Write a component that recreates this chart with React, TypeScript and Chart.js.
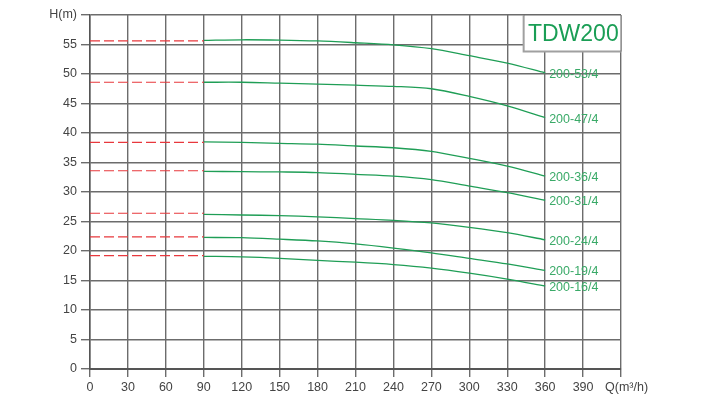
import React, { useEffect, useRef } from "react";
import { Chart, registerables } from "chart.js";

Chart.register(...registerables);

const flow = [90, 120, 150, 180, 210, 240, 270, 300, 330, 360];
const h53 = [55.7, 55.8, 55.75, 55.6, 55.3, 54.95, 54.3, 53.1, 51.85, 50.2];
const h47 = [48.6, 48.6, 48.45, 48.3, 48.1, 47.9, 47.5, 46.2, 44.6, 42.6];
const h36 = [38.5, 38.4, 38.25, 38.1, 37.8, 37.5, 36.9, 35.7, 34.4, 32.7];
const h31 = [33.5, 33.45, 33.4, 33.3, 33.0, 32.7, 32.1, 31.0, 29.9, 28.6];
const h24 = [26.2, 26.1, 26.0, 25.8, 25.5, 25.2, 24.75, 24.0, 23.1, 21.9];
const h19 = [22.3, 22.25, 22.0, 21.7, 21.2, 20.5, 19.7, 18.75, 17.8, 16.7];
const h16 = [19.1, 19.0, 18.76, 18.4, 18.1, 17.7, 17.1, 16.25, 15.25, 14.07];

const curveNames = ["200-53/4", "200-47/4", "200-36/4", "200-31/4", "200-24/4", "200-19/4", "200-16/4"];
const curveValues = [h53, h47, h36, h31, h24, h19, h16];
const shutoffHead = [55.6, 48.6, 38.4, 33.6, 26.4, 22.4, 19.2];
const shutoffFlow = [0, 90];

const modelName = "TDW200";
const xAxisName = "Q(m³/h)";
const yAxisName = "H(m)";
const xMax = 420;
const yMax = 60;

const GREEN = "#1f9e56";
const LABEL_GREEN = "#3aaa68";
const RED = "#e8383d";
const GRID = "#6c6c6c";
const FONT = "'Liberation Sans', Arial, sans-serif";

export default function App() {
  const ref = useRef<HTMLCanvasElement | null>(null);

  useEffect(() => {
    const canvas = ref.current;
    if (!canvas) return;

    const datasets: any[] = [];
    curveValues.forEach((vals, i) => {
      datasets.push({
        label: curveNames[i] + " shutoff",
        data: shutoffFlow.map((x) => ({ x, y: shutoffHead[i] })),
        borderColor: RED,
        borderWidth: 1.2,
        borderDash: [10, 4],
        pointRadius: 0,
        showLine: true,
        fill: false,
      });
      datasets.push({
        label: curveNames[i],
        data: flow.map((x, j) => ({ x, y: vals[j] })),
        borderColor: GREEN,
        borderWidth: 1.3,
        pointRadius: 0,
        showLine: true,
        fill: false,
        tension: 0.3,
      });
    });

    const overlay = {
      id: "overlay",
      beforeDatasetsDraw(chart: any) {
        const ctx = chart.ctx;
        const xs = chart.scales.x;
        const ys = chart.scales.y;
        const left = xs.getPixelForValue(343);
        const right = xs.getPixelForValue(xMax);
        const top = ys.getPixelForValue(yMax);
        const bottom = ys.getPixelForValue(53.8);
        ctx.save();
        ctx.fillStyle = "#ffffff";
        ctx.fillRect(left, top, right - left, bottom - top);
        ctx.strokeStyle = "#a0a0a0";
        ctx.lineWidth = 2;
        ctx.beginPath();
        ctx.moveTo(left, top);
        ctx.lineTo(left, bottom);
        ctx.lineTo(right, bottom);
        ctx.stroke();
        ctx.strokeStyle = "#666";
        ctx.lineWidth = 1;
        ctx.beginPath();
        ctx.moveTo(left, top);
        ctx.lineTo(right, top);
        ctx.lineTo(right, bottom);
        ctx.stroke();
        ctx.fillStyle = "#1a9e55";
        ctx.font = `23px ${FONT}`;
        ctx.textAlign = "center";
        ctx.textBaseline = "middle";
        ctx.fillText(modelName, (left + right) / 2 + 1, (top + bottom) / 2 + 1);
        ctx.restore();
      },
      afterDatasetsDraw(chart: any) {
        const ctx = chart.ctx;
        const xs = chart.scales.x;
        const ys = chart.scales.y;
        ctx.save();
        ctx.fillStyle = LABEL_GREEN;
        ctx.font = `12.5px ${FONT}`;
        ctx.textAlign = "left";
        ctx.textBaseline = "middle";
        curveValues.forEach((vals, i) => {
          const x = xs.getPixelForValue(flow[flow.length - 1]);
          const y = ys.getPixelForValue(vals[vals.length - 1]);
          ctx.fillText(curveNames[i], x + 4, y + 1.5);
        });
        ctx.fillStyle = "#444";
        ctx.fillText(xAxisName, xs.getPixelForValue(xMax) - 16, ys.getPixelForValue(0) + 19);
        ctx.restore();
      },
    };

    const chart = new Chart(canvas, {
      type: "scatter",
      data: { datasets },
      options: {
        animation: false,
        responsive: false,
        maintainAspectRatio: false,
        layout: { padding: { top: 15, right: 83, left: 0, bottom: 0 } },
        plugins: { legend: { display: false }, tooltip: { enabled: false } },
        scales: {
          x: {
            type: "linear",
            min: 0,
            max: xMax,
            afterFit: (s: any) => {
              s.height = 29;
            },
            ticks: {
              stepSize: 30,
              color: "#444",
              font: { size: 12.5, family: FONT },
              padding: 3,
              maxRotation: 0,
              autoSkip: false,
              callback: (v: any) => (v === xMax ? "" : String(v)),
            },
            grid: { color: GRID, lineWidth: 1.4, tickLength: 8, tickColor: GRID },
            border: { color: "#555", width: 2 },
          },
          y: {
            type: "linear",
            min: 0,
            max: yMax,
            afterFit: (s: any) => {
              s.width = 90;
            },
            ticks: {
              stepSize: 5,
              color: "#444",
              font: { size: 12.5, family: FONT },
              padding: 4,
              autoSkip: false,
              callback: (v: any) => (v === yMax ? yAxisName : String(v)),
            },
            grid: { color: GRID, lineWidth: 1.4, tickLength: 9, tickColor: GRID },
            border: { color: "#555", width: 1.5 },
          },
        },
      },
      plugins: [overlay],
    });

    return () => chart.destroy();
  }, []);

  return (
    <div style={{ position: "absolute", left: 0, top: 0, width: 704, height: 398, background: "#fff" }}>
      <canvas ref={ref} width={704} height={398} style={{ display: "block" }} />
    </div>
  );
}
